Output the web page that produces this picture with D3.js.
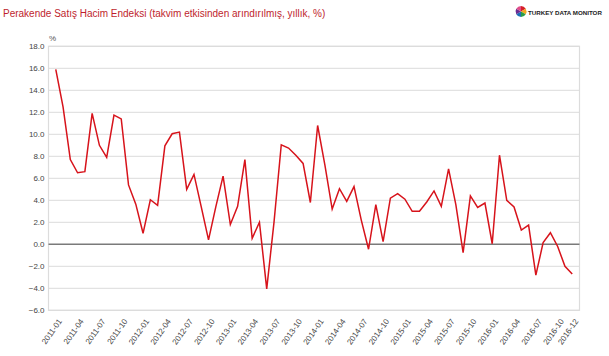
<!DOCTYPE html>
<html>
<head>
<meta charset="utf-8">
<script src="https://cdn.jsdelivr.net/npm/d3@7"></script>
<style>
  html, body { margin: 0; padding: 0; background: #fff; }
  svg { display: block; font-family: "Liberation Sans", Arial, sans-serif; }
</style>
</head>
<body>
<svg id="chart" width="609" height="356"></svg>
<script>
const title = "Perakende Satış Hacim Endeksi (takvim etkisinden arındırılmış, yıllık, %)";
const brand = "TURKEY DATA MONITOR";
const unitLabel = "%";

const years = [2011, 2012, 2013, 2014, 2015, 2016];
const months = years.flatMap(y => d3.range(1, 13).map(m => `${y}-${String(m).padStart(2, "0")}`));

const values = [
  15.9, 12.5, 7.7, 6.5, 6.6, 11.9, 9.0, 7.9, 11.75, 11.4, 5.4, 3.65,
  1.0, 4.05, 3.55, 8.95, 10.05, 10.2, 5.0, 6.35, 3.4, 0.4, 3.4, 6.2,
  1.8, 3.45, 7.7, 0.55, 2.0, -4.05, 2.0, 9.05, 8.75, 8.1, 7.35, 3.8,
  10.8, 7.2, 3.2, 5.05, 3.9, 5.25, 2.2, -0.45, 3.6, 0.25, 4.2, 4.6,
  4.1, 3.0, 3.0, 3.85, 4.85, 3.45, 6.85, 3.6, -0.75, 4.4, 3.35, 3.75,
  0.05, 8.1, 4.0, 3.4, 1.3, 1.75, -2.8, 0.15, 1.05, -0.2, -2.0, -2.7
];

const xTickLabels = ["2011-01","2011-04","2011-07","2011-10","2012-01","2012-04","2012-07","2012-10",
  "2013-01","2013-04","2013-07","2013-10","2014-01","2014-04","2014-07","2014-10",
  "2015-01","2015-04","2015-07","2015-10","2016-01","2016-04","2016-07","2016-10","2016-12"];
const yTicks = [-6, -4, -2, 0, 2, 4, 6, 8, 10, 12, 14, 16, 18];

const svg = d3.select("#chart");
const L = 48.5, R = 579.5, T = 46.3, B = 310.3;

const x = d3.scalePoint().domain(months).range([L, R]).padding(1);
const y = d3.scaleLinear().domain([-6, 18]).range([B, T]);

// title
svg.append("text").attr("x", 3).attr("y", 17)
  .attr("font-size", 10).attr("fill", "#be1e2d").text(title);

// logo
const logo = svg.append("g").attr("transform", "translate(521,11.5)");
const pie = d3.pie().sort(null)([1, 1, 1, 1, 1, 1]);
const logoColors = ["#d62027", "#f2a81d", "#2a9d47", "#1d6fb8", "#6a2c91", "#e04e8a"];
logo.selectAll("path").data(pie).join("path")
  .attr("d", d3.arc().innerRadius(0).outerRadius(5.5))
  .attr("fill", (d, i) => logoColors[i]);
svg.append("text").attr("x", 528).attr("y", 14.5)
  .attr("font-size", 6.2).attr("font-weight", "bold").attr("fill", "#222")
  .text(brand);

// unit label
svg.append("text").attr("x", 49).attr("y", 41)
  .attr("font-size", 8).attr("fill", "#555").text(unitLabel);

// gridlines
svg.append("g").selectAll("line").data(yTicks.filter(d => d !== 0)).join("line")
  .attr("x1", L).attr("x2", R)
  .attr("y1", d => y(d)).attr("y2", d => y(d))
  .attr("stroke", "#e2e2e2").attr("stroke-width", 1.2);

// frame
svg.append("rect").attr("x", L).attr("y", T).attr("width", R - L).attr("height", B - T)
  .attr("fill", "none").attr("stroke", "#dcdcdc").attr("stroke-width", 1.2);

// zero line
svg.append("line").attr("x1", L).attr("x2", R).attr("y1", y(0)).attr("y2", y(0))
  .attr("stroke", "#7a7a7a").attr("stroke-width", 1.5);

// y axis
const yAxis = d3.axisLeft(y).tickValues(yTicks).tickFormat(d3.format(".1f")).tickSize(0).tickPadding(4);
const gy = svg.append("g").attr("transform", `translate(${L},0)`).call(yAxis);
gy.select(".domain").remove();
gy.selectAll("text").attr("font-size", 8).attr("fill", "#444").attr("font-family", "Liberation Sans, Arial, sans-serif");

// x axis
const xAxis = d3.axisBottom(x).tickValues(xTickLabels).tickSize(0);
const gx = svg.append("g").attr("transform", `translate(0,${B})`).call(xAxis);
gx.select(".domain").remove();
gx.selectAll("text")
  .attr("font-size", 8).attr("fill", "#444").attr("font-family", "Liberation Sans, Arial, sans-serif")
  .attr("text-anchor", "end").attr("dy", 0).attr("y", 0)
  .attr("transform", "translate(6,11) rotate(-55)");

// line
const line = d3.line().x((d, i) => x(months[i])).y(d => y(d));
svg.append("path").datum(values).attr("d", line)
  .attr("fill", "none").attr("stroke", "#d7131b").attr("stroke-width", 1.5)
  .attr("stroke-linejoin", "miter");
</script>
</body>
</html>
